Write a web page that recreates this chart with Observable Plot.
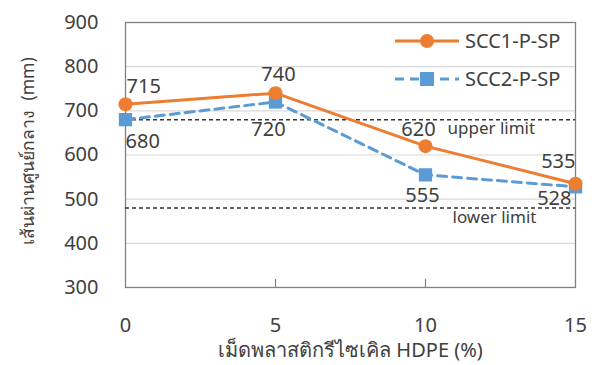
<!DOCTYPE html>
<html>
<head>
<meta charset="utf-8">
<script src="https://cdn.jsdelivr.net/npm/d3@7"></script>
<script src="https://cdn.jsdelivr.net/npm/@observablehq/plot@0.6"></script>
<style>
  html, body { margin: 0; padding: 0; background: #fff; }
  #chart svg { display: block; }
</style>
</head>
<body>
<div id="chart"></div>
<script>
// HDPE content (%) on the x axis
const hdpe = [0, 5, 10, 15];
// Slump-flow diameter (mm) of each mix
const scc1 = [715, 740, 620, 535];
const scc2 = [680, 720, 555, 528];
const seriesNames = ["SCC1-P-SP", "SCC2-P-SP"];
// Acceptance limits for slump flow (mm)
const upperLimit = 680;
const lowerLimit = 480;
const limitNames = ["upper limit", "lower limit"];
const yTicks = [300, 400, 500, 600, 700, 800, 900];
const xLabel = "เม็ดพลาสติกรีไซเคิล HDPE (%)";
const yLabel = "เส้นผ่านศูนย์กลาง  (mm)";

const ORANGE = "#ED7D31";
const BLUE = "#5B9BD5";
const INK = "#404040";
const FONT = "'Segoe UI', 'Noto Sans', 'Open Sans', sans-serif";
const FS = 20;

const rows1 = hdpe.map((x, i) => ({x, y: scc1[i], i}));
const rows2 = hdpe.map((x, i) => ({x, y: scc2[i], i}));
const last = hdpe.length - 1;
const anchorOf = i => i === 0 ? "start" : i === last ? "end" : "middle";

// value labels: series 1 sits above its points, series 2 below
const nudge1 = [[1, -18], [3, -19], [-7, -17], [0, -22]];
const nudge2 = [[0, 22], [-7, 28], [-3, 21], [-4, 12]];
const valueLabels = (rows, nudge) => rows.map(r => Plot.text([r], {
  x: "x", y: "y", text: d => String(d.y), textAnchor: anchorOf(r.i),
  dx: nudge[r.i][0], dy: nudge[r.i][1], fontSize: FS, fill: INK
}));

const chart = Plot.plot({
  width: 597,
  height: 365,
  marginLeft: 125,
  marginRight: 22,
  marginTop: 22,
  marginBottom: 78,
  style: {fontFamily: FONT, color: INK, background: "#fff"},
  x: {domain: [0, 15]},
  y: {domain: [300, 900]},
  marks: [
    Plot.gridY(yTicks.filter(v => v > 300 && v < 900), {stroke: "#d9d9d9", strokeOpacity: 1, strokeWidth: 1.2}),
    Plot.axisY(yTicks, {tickSize: 0, tickPadding: 27, fontSize: FS, label: null, fill: INK}),
    Plot.axisX(hdpe, {tickSize: 0, tickPadding: 30, fontSize: FS, label: null, fill: INK}),
    // short inward tick marks on the bottom axis
    Plot.ruleX(hdpe.slice(1, -1), {y1: 300, y2: 300, insetTop: -8, stroke: "#808080", strokeWidth: 1.2}),
    Plot.frame({stroke: "#808080", strokeWidth: 1.3}),
    // acceptance limits
    Plot.ruleY([upperLimit, lowerLimit], {stroke: "#333", strokeWidth: 1.5, strokeDasharray: "4,3"}),
    Plot.text([upperLimit], {x: 15, y: d => d, text: () => limitNames[0], textAnchor: "start", dx: -128, dy: 9, fontSize: 17, fill: INK}),
    Plot.text([lowerLimit], {x: 15, y: d => d, text: () => limitNames[1], textAnchor: "start", dx: -123, dy: 10, fontSize: 17, fill: INK}),
    // series 2 (dashed, squares)
    Plot.line(rows2, {x: "x", y: "y", stroke: BLUE, strokeWidth: 3, strokeDasharray: "9,6"}),
    Plot.dot(rows2, {x: "x", y: "y", symbol: "square", r: 7.5, fill: BLUE, stroke: "none"}),
    // series 1 (solid, circles)
    Plot.line(rows1, {x: "x", y: "y", stroke: ORANGE, strokeWidth: 3}),
    Plot.dot(rows1, {x: "x", y: "y", symbol: "circle", r: 7, fill: ORANGE, stroke: "none"}),
    ...valueLabels(rows1, nudge1),
    ...valueLabels(rows2, nudge2),
    // axis titles
    Plot.text([xLabel], {frameAnchor: "bottom", dy: 69, fontSize: FS, fill: INK}),
    Plot.text([yLabel], {frameAnchor: "left", textAnchor: "middle", dx: -97, dy: -4, rotate: -90, fontSize: 17.5, fill: INK})
  ]
});

// Legend in the upper right corner of the plot area
const svg = d3.select(chart);
const legend = svg.append("g").attr("font-family", FONT).attr("font-size", FS)
  .attr("fill", INK).attr("text-anchor", "start");
const items = [
  {name: seriesNames[0], color: ORANGE, dash: null, shape: "circle", y: 41},
  {name: seriesNames[1], color: BLUE, dash: "9,6", shape: "square", y: 79}
];
items.forEach(it => {
  const g = legend.append("g").attr("transform", `translate(395,${it.y})`);
  g.append("line").attr("x1", 0).attr("x2", 64).attr("y1", 0).attr("y2", 0)
    .attr("stroke", it.color).attr("stroke-width", 3).attr("stroke-dasharray", it.dash);
  if (it.shape === "circle") g.append("circle").attr("cx", 32).attr("cy", 0).attr("r", 7).attr("fill", it.color);
  else g.append("rect").attr("x", 25).attr("y", -7).attr("width", 14).attr("height", 14).attr("fill", it.color);
  g.append("text").attr("x", 70).attr("y", 0).attr("dy", "0.35em").text(it.name);
});

document.getElementById("chart").appendChild(chart);
</script>
</body>
</html>
